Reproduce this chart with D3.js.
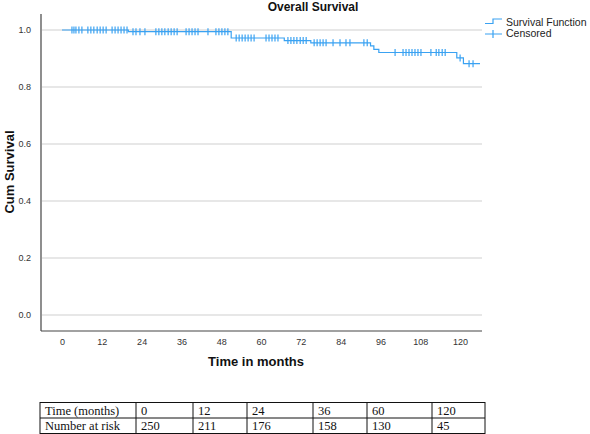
<!DOCTYPE html>
<html>
<head>
<meta charset="utf-8">
<script src="https://cdn.jsdelivr.net/npm/d3@7"></script>
<style>
  body { margin: 0; background: #fff; }
  svg { display: block; }
</style>
</head>
<body>
<svg id="chart"></svg>
<script>
// Kaplan-Meier steps (months, cumulative survival)
const stepTimes = [0, 20, 51, 67, 75, 93, 94, 95.5, 119, 121];
const stepSurv = [1.0, 0.994, 0.972, 0.963, 0.955, 0.944, 0.932, 0.921, 0.902, 0.882];
const lastTime = 126;

// censored observations (months)
const censorTimes = [
  3.0, 3.6, 4.2, 5.1, 6.0, 7.8, 8.7, 9.6, 10.6, 11.5, 12.4, 13.3,
  15.1, 16.0, 16.9, 17.8, 18.7, 19.6, 21.4, 22.3, 23.5, 25.0,
  28.3, 29.2, 30.1, 31.0, 32.0, 32.9, 33.8, 34.7, 37.4, 38.3, 39.2, 40.1, 41.0,
  44.0, 46.4, 47.3, 48.2, 49.1, 50.0, 52.5, 53.4, 54.3, 55.2, 56.1, 57.0, 57.9,
  61.5, 62.4, 63.3, 64.2, 65.1, 68.1, 69.0, 69.9, 70.8, 71.8, 72.7, 73.6,
  76.0, 76.9, 77.8, 78.7, 79.6, 81.7, 83.8, 85.6, 86.8, 91.0, 92.0,
  100.4, 102.8, 103.7, 104.6, 105.5, 106.4, 107.3, 108.2, 111.2, 112.8, 113.6, 114.6, 115.5,
  120.0, 122.7, 123.9
];

const xTicks = [0, 12, 24, 36, 48, 60, 72, 84, 96, 108, 120];
const yTicks = [0, 0.2, 0.4, 0.6, 0.8, 1.0];

// number at risk table
const riskTimes = [0, 12, 24, 36, 60, 120];
const riskCounts = [250, 211, 176, 158, 130, 45];

const width = 590;
const height = 434;
const blue = '#3aa2f2';
const sans = "'Liberation Sans', Arial, sans-serif";

const svg = d3.select('#chart').attr('width', width).attr('height', height);

const x = d3.scaleLinear().domain([-6.33, 126.6]).range([41, 482]);
const y = d3.scaleLinear().domain([0, 1]).range([315, 30]);

// title
svg.append('text')
  .attr('x', 313)
  .attr('y', 11)
  .attr('text-anchor', 'middle')
  .style('font', `bold 12px ${sans}`)
  .attr('fill', '#111')
  .text('Overall Survival');

// grid lines
svg.append('g')
  .selectAll('line')
  .data(yTicks)
  .join('line')
  .attr('x1', 42)
  .attr('x2', 482)
  .attr('y1', d => y(d))
  .attr('y2', d => y(d))
  .attr('stroke', '#cfcfcf')
  .attr('stroke-width', 1);

// axes
const yAxis = svg.append('g')
  .attr('transform', 'translate(41,0)')
  .call(d3.axisLeft(y).tickValues(yTicks).tickFormat(d3.format('.1f')).tickSize(0).tickPadding(10));
yAxis.select('.domain').remove();
yAxis.selectAll('text').style('font', `9px ${sans}`).attr('fill', '#333');

svg.append('line')
  .attr('x1', 41).attr('x2', 41)
  .attr('y1', 14).attr('y2', 331)
  .attr('stroke', '#444').attr('stroke-width', 1.2);

const xAxis = svg.append('g')
  .attr('transform', 'translate(0,331)')
  .call(d3.axisBottom(x).tickValues(xTicks).tickSize(0).tickPadding(8));
xAxis.select('.domain').remove();
xAxis.selectAll('text').style('font', `9px ${sans}`).attr('fill', '#333');

svg.append('line')
  .attr('x1', 41).attr('x2', 482)
  .attr('y1', 331).attr('y2', 331)
  .attr('stroke', '#444').attr('stroke-width', 1.2);

// axis titles
svg.append('text')
  .attr('transform', 'translate(14,172) rotate(-90)')
  .attr('text-anchor', 'middle')
  .style('font', `bold 13px ${sans}`)
  .attr('fill', '#111')
  .text('Cum Survival');

svg.append('text')
  .attr('x', 256)
  .attr('y', 366)
  .attr('text-anchor', 'middle')
  .style('font', `bold 13px ${sans}`)
  .attr('fill', '#111')
  .text('Time in months');

// survival curve
const curvePts = stepTimes.map((t, i) => [t, stepSurv[i]]);
curvePts.push([lastTime, stepSurv[stepSurv.length - 1]]);
const line = d3.line()
  .x(d => x(d[0]))
  .y(d => y(d[1]))
  .curve(d3.curveStepAfter);

svg.append('path')
  .datum(curvePts)
  .attr('d', line)
  .attr('fill', 'none')
  .attr('stroke', blue)
  .attr('stroke-width', 1.2);

// censor marks sit on the curve
const survAt = t => stepSurv[d3.bisectRight(stepTimes, t) - 1];
svg.append('g')
  .selectAll('line')
  .data(censorTimes)
  .join('line')
  .attr('x1', d => x(d))
  .attr('x2', d => x(d))
  .attr('y1', d => y(survAt(d)) - 3.5)
  .attr('y2', d => y(survAt(d)) + 3.5)
  .attr('stroke', blue)
  .attr('stroke-width', 1.2);

// legend
const legend = svg.append('g');
legend.append('path')
  .attr('d', 'M485,23.5H493V19H502')
  .attr('fill', 'none')
  .attr('stroke', blue)
  .attr('stroke-width', 1.2);
legend.append('path')
  .attr('d', 'M485,34H502M493,30V38')
  .attr('fill', 'none')
  .attr('stroke', blue)
  .attr('stroke-width', 1.2);
legend.selectAll('text')
  .data(['Survival Function', 'Censored'])
  .join('text')
  .attr('x', 506)
  .attr('y', (d, i) => 25.5 + i * 11.5)
  .style('font', `10.5px ${sans}`)
  .attr('fill', '#222')
  .text(d => d);

// number at risk table
const colEdges = [40, 136, 193, 247, 313, 367, 432, 485];
const rowEdges = [402.5, 418, 433.5];
const table = svg.append('g');
const rows = [['Time (months)', ...riskTimes], ['Number at risk', ...riskCounts]];

table.append('rect')
  .attr('x', colEdges[0])
  .attr('y', rowEdges[0])
  .attr('width', colEdges[colEdges.length - 1] - colEdges[0])
  .attr('height', rowEdges[2] - rowEdges[0])
  .attr('fill', 'none')
  .attr('stroke', '#111')
  .attr('stroke-width', 1);

table.selectAll('line.col')
  .data(colEdges.slice(1, -1))
  .join('line')
  .attr('class', 'col')
  .attr('x1', d => d).attr('x2', d => d)
  .attr('y1', rowEdges[0]).attr('y2', rowEdges[2])
  .attr('stroke', '#111');

table.append('line')
  .attr('x1', colEdges[0]).attr('x2', colEdges[colEdges.length - 1])
  .attr('y1', rowEdges[1]).attr('y2', rowEdges[1])
  .attr('stroke', '#111');

rows.forEach((row, r) => {
  table.selectAll(`text.r${r}`)
    .data(row)
    .join('text')
    .attr('class', `r${r}`)
    .attr('x', (d, i) => colEdges[i] + 5)
    .attr('y', rowEdges[r] + 12)
    .style('font', "12.5px 'Liberation Serif', 'Times New Roman', serif")
    .attr('fill', '#111')
    .text(d => d);
});
</script>
</body>
</html>
